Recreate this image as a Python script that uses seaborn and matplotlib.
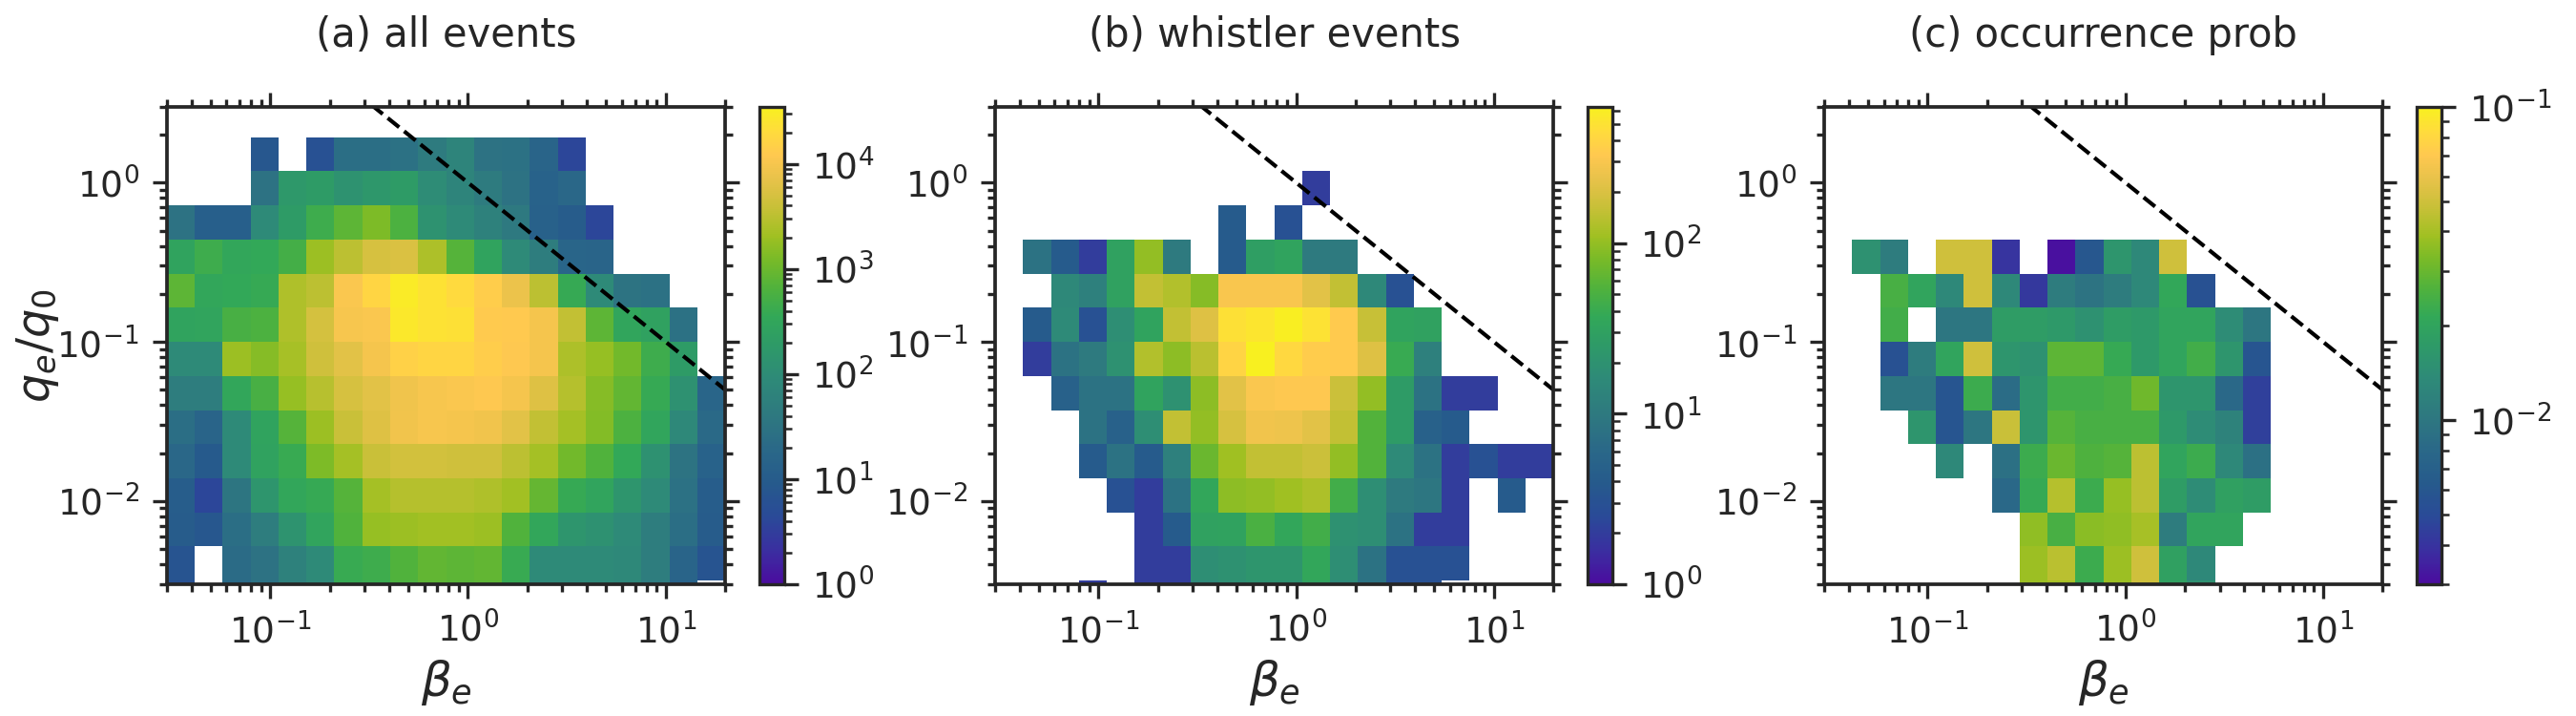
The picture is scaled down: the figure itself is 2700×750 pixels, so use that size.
import numpy as np
import matplotlib
matplotlib.use('Agg')
import matplotlib.pyplot as plt
from matplotlib.colors import LogNorm, LinearSegmentedColormap
import seaborn as sns

# bin edges (log spaced)
beta_edges = 10 ** np.linspace(np.log10(0.03), np.log10(20), 21)
q_edges = 10 ** np.linspace(-2.5 - 3 / 14, 0.5, 16)

# rows listed from top (largest q) to bottom (smallest q)
all_counts = [
    [0, 0, 0, 0, 0, 0, 0, 0, 0, 0, 0, 0, 0, 0, 0, 0, 0, 0, 0, 0],
    [0, 0, 0, 8, 0, 6, 25, 25, 28, 45, 70, 30, 28, 15, 4, 0, 0, 0, 0, 0],
    [0, 0, 0, 30, 170, 200, 130, 160, 200, 100, 70, 45, 30, 14, 18, 0, 0, 0, 0, 0],
    [30, 12, 12, 90, 200, 450, 800, 1300, 600, 130, 90, 60, 40, 13, 10, 4, 0, 0, 0, 0],
    [280, 450, 320, 350, 500, 2000, 3200, 5000, 5500, 2500, 700, 280, 90, 50, 16, 15, 0, 0, 0, 0],
    [800, 320, 350, 380, 2600, 3200, 11000, 17000, 30000, 24000, 19000, 14000, 8000, 3200, 380, 90, 32, 28, 0, 0],
    [280, 290, 550, 600, 2600, 4800, 10000, 11000, 28000, 24000, 23000, 13000, 12500, 9500, 3500, 800, 300, 250, 28, 0],
    [90, 90, 2000, 1500, 2300, 4500, 6500, 9500, 15000, 17000, 17000, 14000, 12000, 9500, 2500, 1800, 1100, 450, 200, 0],
    [50, 50, 320, 550, 1800, 3000, 5000, 6500, 8500, 10000, 11000, 12000, 9500, 6000, 2800, 1500, 850, 380, 120, 16],
    [25, 15, 90, 280, 700, 2000, 4000, 6000, 9000, 10000, 9500, 9000, 6500, 3500, 2200, 1400, 600, 300, 80, 20],
    [18, 9, 90, 260, 400, 1300, 2200, 4000, 4600, 4600, 4400, 4400, 3200, 2200, 1100, 650, 350, 120, 32, 14],
    [11, 4, 35, 150, 320, 380, 700, 2200, 2800, 2800, 2800, 2600, 2100, 900, 380, 290, 150, 90, 28, 11],
    [10, 8, 25, 50, 140, 290, 650, 1800, 2000, 2100, 2100, 2000, 650, 320, 150, 120, 90, 50, 25, 10],
    [7, 0, 22, 30, 60, 90, 400, 450, 650, 850, 800, 850, 400, 90, 90, 90, 80, 50, 15, 7],
    [6, 0, 20, 28, 55, 85, 380, 420, 600, 800, 750, 800, 380, 85, 85, 85, 75, 45, 14, 0],
]

whistler_counts = [
    [0, 0, 0, 0, 0, 0, 0, 0, 0, 0, 0, 0, 0, 0, 0, 0, 0, 0, 0, 0],
    [0, 0, 0, 0, 0, 0, 0, 0, 0, 0, 0, 0, 0, 0, 0, 0, 0, 0, 0, 0],
    [0, 0, 0, 0, 0, 0, 0, 0, 0, 0, 0, 2, 0, 0, 0, 0, 0, 0, 0, 0],
    [0, 0, 0, 0, 0, 0, 0, 0, 4, 0, 3, 0, 0, 0, 0, 0, 0, 0, 0, 0],
    [0, 8, 4, 2, 30, 100, 10, 0, 4, 28, 32, 10, 10, 0, 0, 0, 0, 0, 0, 0],
    [0, 0, 15, 12, 30, 150, 130, 90, 300, 300, 300, 220, 150, 15, 3, 0, 0, 0, 0, 0],
    [0, 4, 16, 3, 18, 32, 150, 210, 480, 520, 600, 500, 340, 160, 32, 30, 0, 0, 0, 0],
    [0, 2, 8, 10, 20, 130, 95, 140, 400, 630, 430, 350, 340, 210, 40, 12, 0, 0, 0, 0],
    [0, 0, 5, 8, 8, 32, 20, 95, 220, 310, 320, 320, 170, 100, 26, 8, 2, 2, 0, 0],
    [0, 0, 0, 8, 5, 18, 150, 100, 190, 270, 260, 220, 150, 55, 26, 5, 4, 0, 0, 0],
    [0, 0, 0, 4, 8, 4, 12, 70, 110, 150, 150, 170, 100, 55, 16, 8, 2, 3, 2, 2],
    [0, 0, 0, 0, 3, 2, 8, 35, 95, 100, 110, 125, 45, 18, 10, 9, 2, 0, 4, 0],
    [0, 0, 0, 0, 0, 2, 4, 30, 31, 50, 35, 45, 20, 18, 8, 2, 2, 0, 0, 0],
    [0, 0, 0, 0, 0, 2, 2, 18, 20, 22, 22, 35, 18, 8, 3, 3, 3, 0, 0, 0],
    [0, 0, 0, 2, 0, 2, 2, 15, 18, 20, 20, 30, 15, 8, 3, 3, 0, 0, 0, 0],
]

occurrence_prob = [
    [0] * 20,
    [0] * 20,
    [0] * 20,
    [0] * 20,
    [0, 0.015, 0.011, 0, 0.05, 0.05, 0.004, 0, 0.0031, 0.006, 0.016, 0.013, 0.05, 0, 0, 0, 0, 0, 0, 0],
    [0, 0, 0.025, 0.02, 0.013, 0.05, 0.013, 0.0042, 0.011, 0.0095, 0.011, 0.013, 0.021, 0.0055, 0, 0, 0, 0, 0, 0],
    [0, 0, 0.024, 0, 0.01, 0.01, 0.018, 0.018, 0.017, 0.015, 0.018, 0.017, 0.02, 0.02, 0.014, 0.01, 0, 0, 0, 0],
    [0, 0, 0.0055, 0.011, 0.02, 0.05, 0.016, 0.015, 0.028, 0.028, 0.022, 0.017, 0.02, 0.024, 0.016, 0.0058, 0, 0, 0, 0],
    [0, 0, 0.01, 0.01, 0.0058, 0.023, 0.0085, 0.016, 0.024, 0.024, 0.025, 0.031, 0.016, 0.016, 0.008, 0.0045, 0, 0, 0, 0],
    [0, 0, 0, 0.016, 0.0058, 0.01, 0.048, 0.016, 0.027, 0.025, 0.025, 0.025, 0.017, 0.014, 0.012, 0.0045, 0, 0, 0, 0],
    [0, 0, 0, 0, 0.013, 0, 0.009, 0.023, 0.03, 0.026, 0.027, 0.045, 0.02, 0.023, 0.013, 0.009, 0, 0, 0, 0],
    [0, 0, 0, 0, 0, 0, 0.008, 0.022, 0.043, 0.023, 0.037, 0.045, 0.018, 0.014, 0.019, 0.018, 0, 0, 0, 0],
    [0, 0, 0, 0, 0, 0, 0, 0.036, 0.025, 0.035, 0.036, 0.04, 0.011, 0.02, 0.02, 0, 0, 0, 0, 0],
    [0, 0, 0, 0, 0, 0, 0, 0.038, 0.044, 0.023, 0.038, 0.05, 0.019, 0.013, 0, 0, 0, 0, 0, 0],
    [0, 0, 0, 0, 0, 0, 0, 0.038, 0.04, 0.022, 0.038, 0.05, 0.019, 0.015, 0, 0, 0, 0, 0, 0],
]

titles = ['(a) all events', '(b) whistler events', '(c) occurrence prob']
norm_limits = [(1, 3.5e4), (1, 630), (0.003, 0.1)]

# parula-like colormap
cmap = LinearSegmentedColormap.from_list('parula_like', [
    (0.00, '#4b0c9f'), (0.07, '#3a2fa0'), (0.14, '#2a4a98'), (0.21, '#265a8c'),
    (0.28, '#2a6888'), (0.35, '#2e7880'), (0.43, '#2e8a78'), (0.50, '#2e9a68'),
    (0.56, '#32a858'), (0.62, '#50b23c'), (0.68, '#78ba28'), (0.73, '#a0c022'),
    (0.79, '#c8c038'), (0.85, '#e8c24a'), (0.90, '#ffc850'), (0.95, '#ffdc3c'),
    (1.00, '#f8f020')])
cmap.set_bad('white')

sns.set_style('ticks')
plt.rcParams['font.family'] = ['DejaVu Sans']
plt.rcParams['mathtext.fontset'] = 'dejavusans'

fig = plt.figure(figsize=(9, 2.5), dpi=300)
ax_left = [0.0648, 0.3863, 0.7082]
cb_left = [0.2948, 0.6163, 0.9382]

datasets = [all_counts, whistler_counts, occurrence_prob]
line_beta = np.array([0.03, 20])

for i in range(3):
    ax = fig.add_axes([ax_left[i], 0.184, 0.2167, 0.667])
    vals = np.array(datasets[i], dtype=float)[::-1]
    vals = np.ma.masked_less_equal(vals, 0)
    mesh = ax.pcolormesh(beta_edges, q_edges, vals, cmap=cmap,
                         norm=LogNorm(*norm_limits[i]))
    ax.plot(line_beta, 1 / line_beta, 'k--', lw=1.0)
    ax.set_xscale('log')
    ax.set_yscale('log')
    ax.set_xlim(0.03, 20)
    ax.set_ylim(0.003, 3)
    ax.set_title(titles[i], fontsize=10, pad=15)
    ax.set_xlabel(r'$\beta_e$', fontsize=12, labelpad=2)
    if i == 0:
        ax.set_ylabel(r'$q_e/q_0$', fontsize=11.5, labelpad=-1)
    ax.tick_params(which='both', direction='out', top=True, right=True,
                   labelsize=9, width=0.8)
    for s in ax.spines.values():
        s.set_linewidth(0.9)

    cax = fig.add_axes([cb_left[i], 0.184, 0.0096, 0.667])
    cb = fig.colorbar(mesh, cax=cax)
    cb.ax.tick_params(labelsize=9, width=0.8)
    cb.outline.set_linewidth(0.8)

fig.savefig('out.png', dpi=300)
